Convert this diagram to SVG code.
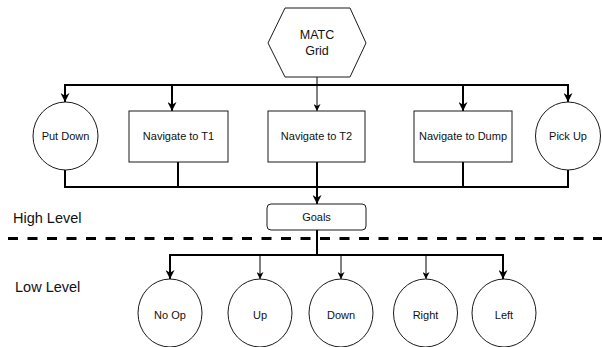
<svg xmlns="http://www.w3.org/2000/svg" width="602" height="347" viewBox="0 0 602 347">
  <style>
    .shape { fill: #ffffff; stroke: #1a1a1a; stroke-width: 1; }
    .label { font-family: "Liberation Sans", Arial, sans-serif; font-size: 11px; fill: #111111; text-anchor: middle; }
    .title { font-family: "Liberation Sans", Arial, sans-serif; font-size: 12.5px; fill: #111111; text-anchor: middle; }
    .side { font-family: "Liberation Sans", Arial, sans-serif; font-size: 14.5px; fill: #111111; }
    .bold { fill: none; stroke: #000000; stroke-width: 2; }
    .thin { fill: none; stroke: #000000; stroke-width: 1; }
  </style>
  <defs>
    <marker id="arrow-bold" viewBox="0 0 10 10" refX="10" refY="5" markerWidth="10" markerHeight="9" markerUnits="userSpaceOnUse" orient="auto">
      <path d="M0,0 L10,5 L0,10 L3,5 Z" fill="#000000"/>
    </marker>
    <marker id="arrow-thin" viewBox="0 0 10 10" refX="10" refY="5" markerWidth="7" markerHeight="7" markerUnits="userSpaceOnUse" orient="auto">
      <path d="M0,0 L10,5 L0,10 L3,5 Z" fill="#000000"/>
    </marker>
  </defs>

  <rect width="602" height="347" fill="#ffffff"/>

  <!-- connectors -->
  <g id="connectors">
    <!-- grid to high-level options -->
    <path class="thin" d="M317,77 V111" marker-end="url(#arrow-thin)"/>
    <path class="bold" d="M317,85 H65 V102" marker-end="url(#arrow-bold)"/>
    <path class="bold" d="M172,85 V111" marker-end="url(#arrow-bold)"/>
    <path class="bold" d="M317,85 H568 V102" marker-end="url(#arrow-bold)"/>
    <path class="bold" d="M463,85 V111" marker-end="url(#arrow-bold)"/>
    <!-- options merge into goals -->
    <path class="bold" d="M65,170 V187 H317"/>
    <path class="bold" d="M178,162 V187"/>
    <path class="bold" d="M568,170 V187 H317"/>
    <path class="bold" d="M463,162 V187"/>
    <path class="bold" d="M317,162 V204" marker-end="url(#arrow-bold)"/>
    <!-- goals to low-level actions -->
    <path class="bold" d="M317,230 V255"/>
    <path class="bold" d="M317,255 H170 V279" marker-end="url(#arrow-bold)"/>
    <path class="thin" d="M260,255 V279" marker-end="url(#arrow-thin)"/>
    <path class="thin" d="M341,255 V279" marker-end="url(#arrow-thin)"/>
    <path class="thin" d="M426,255 V279" marker-end="url(#arrow-thin)"/>
    <path class="bold" d="M317,255 H503 V279" marker-end="url(#arrow-bold)"/>
  </g>

  <!-- level divider -->
  <path d="M8,238.5 H602" fill="none" stroke="#000000" stroke-width="3" stroke-dasharray="10 9.5"/>
  <text class="side" x="13" y="223">High Level</text>
  <text class="side" x="15" y="292">Low Level</text>

  <g id="matc-grid">
    <polygon class="shape" points="268,43 285,8 350,8 366,43 350,77 285,77"/>
    <text class="title" x="317" y="38.5">MATC</text>
    <text class="title" x="317" y="55">Grid</text>
  </g>

  <g id="put-down">
    <ellipse class="shape" cx="65.5" cy="136" rx="32.5" ry="34"/>
    <text class="label" x="65.5" y="140">Put Down</text>
  </g>
  <g id="navigate-t1">
    <rect class="shape" x="129" y="111" width="99" height="51"/>
    <text class="label" x="178.5" y="140">Navigate to T1</text>
  </g>
  <g id="navigate-t2">
    <rect class="shape" x="268" y="111" width="97" height="51"/>
    <text class="label" x="316.5" y="140">Navigate to T2</text>
  </g>
  <g id="navigate-dump">
    <rect class="shape" x="414" y="111" width="98" height="51"/>
    <text class="label" x="463" y="140">Navigate to Dump</text>
  </g>
  <g id="pick-up">
    <ellipse class="shape" cx="568" cy="136" rx="32.5" ry="34"/>
    <text class="label" x="568" y="140">Pick Up</text>
  </g>

  <g id="goals">
    <rect class="shape" x="267" y="204" width="99" height="26" rx="4" ry="4"/>
    <text class="label" x="316.5" y="221">Goals</text>
  </g>

  <g id="no-op">
    <ellipse class="shape" cx="170" cy="313" rx="32" ry="34"/>
    <text class="label" x="170" y="319">No Op</text>
  </g>
  <g id="up">
    <ellipse class="shape" cx="260" cy="313" rx="32" ry="34"/>
    <text class="label" x="260" y="319">Up</text>
  </g>
  <g id="down">
    <ellipse class="shape" cx="341" cy="313" rx="32" ry="34"/>
    <text class="label" x="341" y="319">Down</text>
  </g>
  <g id="right">
    <ellipse class="shape" cx="425.5" cy="313" rx="32" ry="34"/>
    <text class="label" x="425.5" y="319">Right</text>
  </g>
  <g id="left">
    <ellipse class="shape" cx="504" cy="313" rx="32" ry="34"/>
    <text class="label" x="504" y="319">Left</text>
  </g>
</svg>
